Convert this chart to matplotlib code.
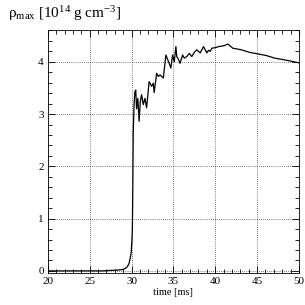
import matplotlib
matplotlib.use('Agg')
import matplotlib.pyplot as plt
from matplotlib.ticker import MultipleLocator

plt.rcParams['font.family'] = 'Liberation Serif'
plt.rcParams['mathtext.fontset'] = 'custom'
plt.rcParams['mathtext.rm'] = 'Liberation Serif'
plt.rcParams['mathtext.it'] = 'Liberation Serif:italic'

# maximum density vs time
time_ms = [20.0, 24.0, 26.5, 27.5, 28.3, 28.9, 29.2, 29.5, 29.7, 29.85, 29.95,
           30.05, 30.1, 30.15, 30.2, 30.3, 30.4, 30.5, 30.6, 30.75, 30.9, 31.05,
           31.2, 31.4, 31.6, 31.8, 32.1, 32.4, 32.6, 32.7, 33.0, 33.2, 33.4,
           33.8, 34.1, 34.4, 34.7, 34.9, 35.1, 35.3, 35.4, 35.6, 35.8, 36.1,
           36.3, 36.6, 36.9, 37.2, 37.5, 37.8, 38.2, 38.6, 39.0, 39.2, 39.4,
           39.6, 40.0, 40.4, 40.8, 41.1, 41.5, 41.8, 42.1, 43.1, 44.1, 45.1,
           46.1, 47.1, 48.5, 50.0]
rho_max = [0.0, 0.0, 0.0, 0.01, 0.015, 0.025, 0.04, 0.08, 0.14, 0.25, 0.34,
           0.6, 0.85, 1.6, 2.64, 3.2, 3.43, 3.46, 3.1, 3.3, 2.86, 3.25,
           3.37, 3.18, 3.3, 3.12, 3.62, 3.53, 3.59, 3.41, 3.78, 3.72, 3.75,
           3.69, 4.13, 4.01, 3.88, 4.13, 4.0, 4.29, 4.1, 4.05, 3.97, 4.13,
           4.07, 4.10, 4.16, 4.10, 4.18, 4.23, 4.17, 4.29, 4.17, 4.22, 4.2,
           4.26, 4.27, 4.29, 4.3, 4.31, 4.34, 4.3, 4.26, 4.23, 4.18, 4.15,
           4.12, 4.07, 4.03, 3.98]

fig = plt.figure(figsize=(3.05, 3.05), dpi=100)
ax = fig.add_axes([0.157, 0.105, 0.823, 0.797])

ax.plot(time_ms, rho_max, color='black', linewidth=0.9)

ax.set_xlim(20, 50)
ax.set_ylim(-0.04, 4.61)
ax.xaxis.set_major_locator(MultipleLocator(5))
ax.xaxis.set_minor_locator(MultipleLocator(1))
ax.yaxis.set_major_locator(MultipleLocator(1))
ax.yaxis.set_minor_locator(MultipleLocator(0.2))
ax.tick_params(which='both', direction='in', top=True, right=True,
               labelsize=8, colors='black', pad=3)
ax.tick_params(which='major', length=5, width=0.6)
ax.tick_params(which='minor', length=3, width=0.6)
for s in ax.spines.values():
    s.set_linewidth(0.6)

ax.grid(True, which='major', color='black', linestyle=(0, (1, 2)), linewidth=0.5)

ax.set_xlabel('time [ms]', fontsize=7.5, labelpad=1)
fig.text(0.025, 0.955, 'ρ$_{\\rm max}$ [10$^{14}$ g cm$^{-3}$]', fontsize=11,
         ha='left', va='center')

plt.savefig('out.png', dpi=100)
